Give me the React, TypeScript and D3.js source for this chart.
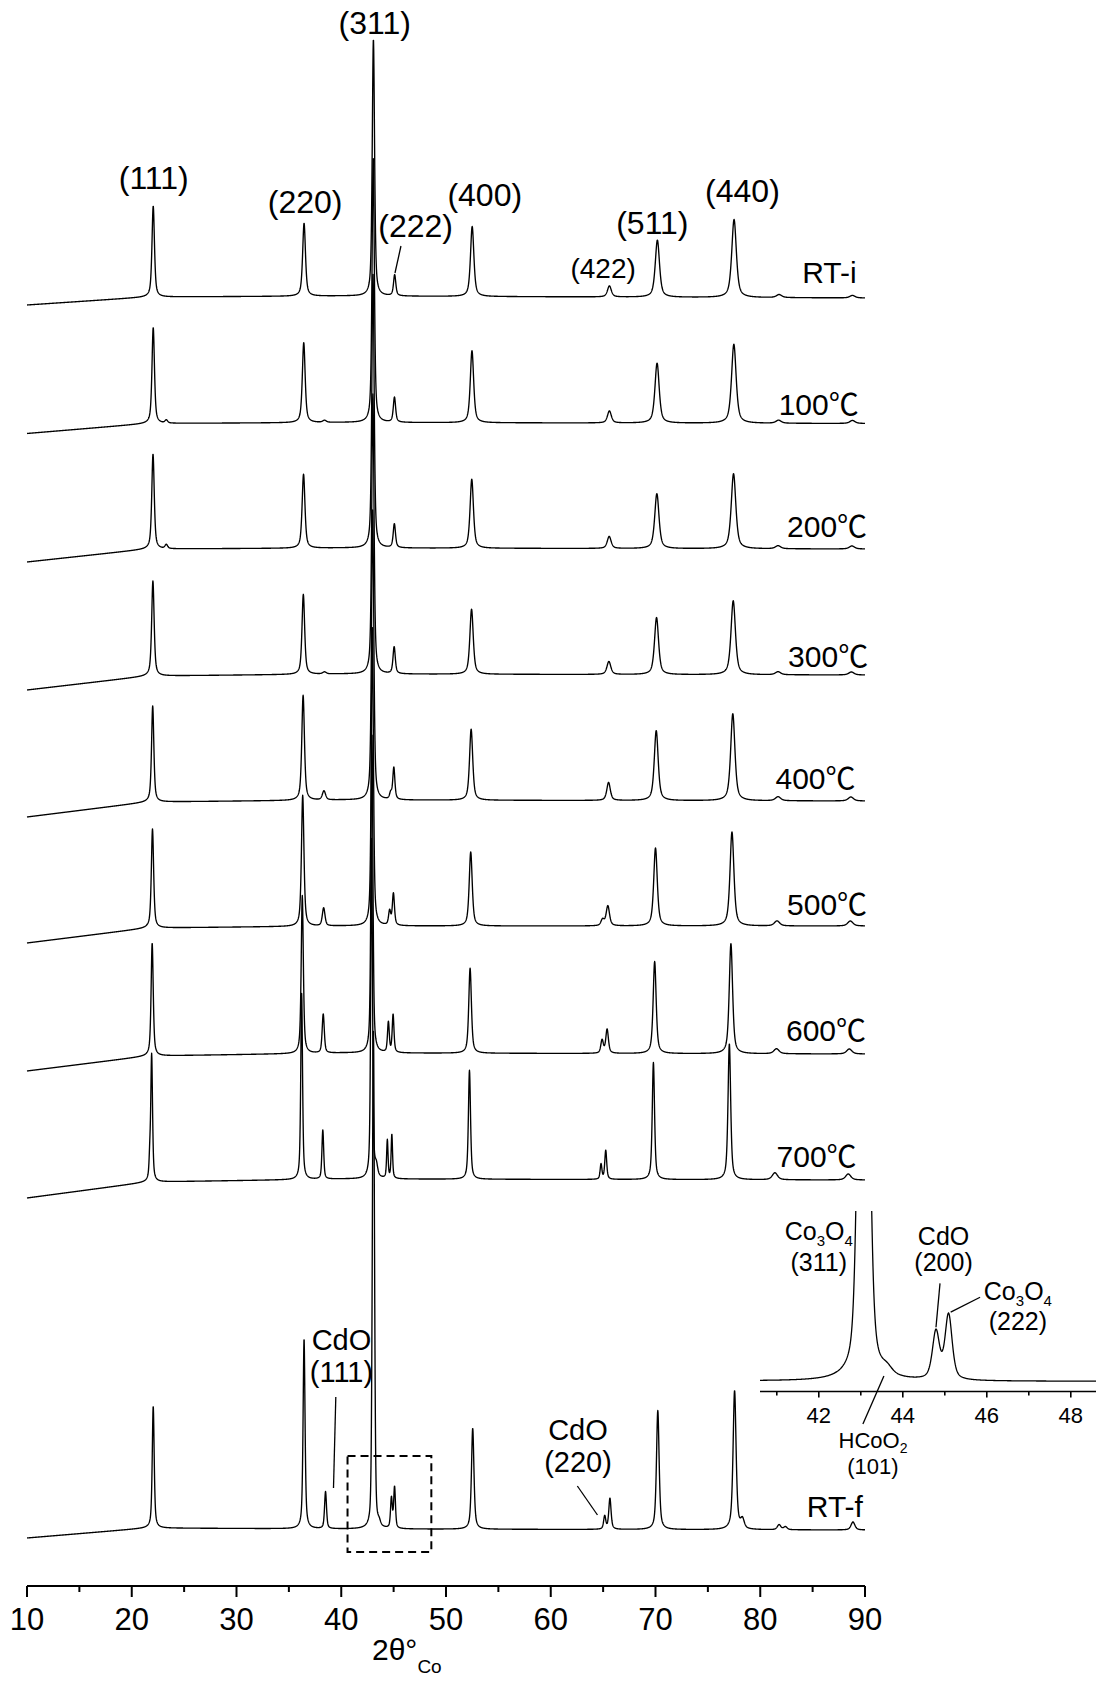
import React from "react"
import * as d3 from "d3"

// stacked in-situ XRD patterns, top to bottom
const samples = ["RT-i", "100℃", "200℃", "300℃", "400℃", "500℃", "600℃", "700℃", "RT-f"]
// vertical offset of each pattern (a.u.)
const offsets = [1233, 1106.5, 981, 855, 729, 603, 476, 350, 0]

// background: level (a.u.) at these 2θ anchors
const bgAt = [10, 21.5, 40, 90]
const bgLevels = [
  [-9, -1, 0, -2],
  [-11, -1, 0, -1],
  [-14, -1, 0, -1],
  [-16, -2, 0, -1],
  [-17, -2, 0, -1],
  [-17, -2, 0, 0],
  [-18, -3, 0, -1],
  [-19, -3, 0, -1],
  [-9, 1, 0, -1],
]

// peaks: [2θ, height a.u., HWHM (deg), lorentz fraction]
const peaksRTi = [
  [22.05, 91, 0.14, 0.6], [36.45, 73, 0.16, 0.6], [43.07, 257, 0.13, 0.55], [45.1, 21, 0.13, 0.6],
  [52.5, 70, 0.19, 0.6], [65.6, 11, 0.22, 0.6], [70.18, 57, 0.24, 0.6], [77.5, 78, 0.26, 0.6],
  [81.8, 3, 0.3, 0.6], [88.8, 2.5, 0.3, 0.6],
]
const peaks100 = [
  [22.05, 96, 0.14, 0.6], [23.3, 3, 0.15, 0.5], [36.42, 80, 0.16, 0.6], [38.4, 2, 0.2, 0.5],
  [43.05, 265, 0.13, 0.55], [45.08, 25, 0.13, 0.6], [52.48, 72, 0.19, 0.6], [65.6, 12, 0.22, 0.6],
  [70.15, 60, 0.24, 0.6], [77.48, 79, 0.26, 0.6], [81.75, 3, 0.3, 0.6], [88.8, 3, 0.3, 0.6],
]
const peaks200 = [
  [22.03, 95, 0.14, 0.6], [23.3, 4, 0.15, 0.5], [36.4, 74, 0.16, 0.6], [43.03, 275, 0.13, 0.55],
  [45.07, 24, 0.13, 0.6], [52.46, 69, 0.19, 0.6], [65.58, 12, 0.22, 0.6], [70.13, 55, 0.24, 0.6],
  [77.45, 75, 0.26, 0.6], [81.7, 3, 0.3, 0.6], [88.75, 3, 0.3, 0.6],
]
const peaks300 = [
  [22.02, 95, 0.14, 0.6], [36.38, 80, 0.15, 0.6], [38.4, 2, 0.2, 0.5], [43.02, 280, 0.13, 0.55],
  [45.05, 27, 0.13, 0.6], [52.44, 65, 0.19, 0.6], [65.55, 13, 0.22, 0.6], [70.1, 57, 0.23, 0.6],
  [77.42, 74, 0.25, 0.6], [81.7, 3, 0.3, 0.6], [88.7, 3, 0.3, 0.6],
]
const peaks400 = [
  [22.0, 96, 0.13, 0.6], [36.36, 105, 0.15, 0.6], [38.35, 9, 0.18, 0.5], [43.0, 290, 0.13, 0.55],
  [44.72, 6, 0.12, 0.5], [45.02, 32, 0.12, 0.6], [52.4, 71, 0.18, 0.6], [65.52, 18, 0.2, 0.6],
  [70.07, 70, 0.22, 0.6], [77.38, 87, 0.24, 0.6], [81.7, 4, 0.3, 0.6], [88.65, 4, 0.3, 0.6],
]
const peaks500 = [
  [21.98, 99, 0.13, 0.6], [36.32, 131, 0.14, 0.6], [38.32, 18, 0.15, 0.5], [42.97, 300, 0.12, 0.55],
  [44.62, 14, 0.12, 0.5], [44.98, 32, 0.12, 0.6], [52.36, 74, 0.17, 0.6], [64.95, 6, 0.18, 0.5],
  [65.45, 20, 0.19, 0.6], [70.0, 78, 0.2, 0.6], [77.3, 94, 0.22, 0.6], [81.6, 5, 0.3, 0.6],
  [88.6, 5, 0.3, 0.6],
]
const peaks600 = [
  [21.95, 113, 0.12, 0.6], [36.28, 158, 0.12, 0.6], [38.28, 39, 0.12, 0.5], [42.93, 320, 0.11, 0.55],
  [44.5, 30, 0.1, 0.5], [44.95, 38, 0.1, 0.6], [52.3, 85, 0.15, 0.6], [64.9, 13, 0.14, 0.5],
  [65.38, 24, 0.15, 0.6], [69.92, 92, 0.17, 0.6], [77.2, 110, 0.19, 0.6], [81.55, 5, 0.3, 0.6],
  [88.5, 5, 0.3, 0.6],
]
const peaks700 = [
  [21.72, 18, 0.08, 0.5], [21.9, 127, 0.1, 0.6], [36.22, 186, 0.1, 0.6], [38.24, 49, 0.1, 0.5],
  [42.9, 340, 0.1, 0.55], [43.35, 10, 0.15, 0.5], [44.4, 38, 0.08, 0.5], [44.83, 44, 0.08, 0.6],
  [52.24, 109, 0.12, 0.6], [64.8, 15, 0.1, 0.5], [65.25, 29, 0.11, 0.6], [69.8, 117, 0.13, 0.6],
  [77.05, 136, 0.15, 0.6], [81.4, 7, 0.3, 0.6], [88.4, 6, 0.3, 0.6],
]
const peaksRTf = [
  [22.05, 122, 0.11, 0.6], [36.45, 190, 0.11, 0.6], [38.5, 37, 0.11, 0.5], [43.07, 500, 0.12, 0.35],
  [43.62, 4, 0.15, 0.5], [44.79, 30, 0.1, 0.5], [45.09, 41, 0.1, 0.5], [52.55, 101, 0.14, 0.6],
  [65.15, 13, 0.12, 0.5], [65.65, 31, 0.13, 0.6], [70.22, 119, 0.15, 0.6], [77.55, 139, 0.17, 0.6],
  [78.3, 9, 0.2, 0.5], [81.8, 5, 0.2, 0.5], [82.4, 3, 0.2, 0.5], [88.85, 8, 0.22, 0.6],
]
const peakSets = [peaksRTi, peaks100, peaks200, peaks300, peaks400, peaks500, peaks600, peaks700, peaksRTf]

// Co3O4 reflections labelled over RT-i: [text, 2θ, a.u.]
const hklLabels: [string, number, number][] = [
  ["(111)", 22.1, 1340], ["(220)", 36.55, 1316], ["(311)", 43.2, 1495], ["(222)", 47.1, 1292],
  ["(400)", 53.7, 1323.5], ["(422)", 65.0, 1251], ["(511)", 69.7, 1295], ["(440)", 78.3, 1327],
]
// sample name placement: [right end 2θ, dy px]
const nameAt = [[89.2, -13], [89.4, -8], [90.2, -11], [90.3, -7], [89.1, -11], [90.2, -11], [90.1, -12], [89.2, -12], [89.8, -12]]

const xTicks = d3.range(10, 91, 10)
const xMinor = d3.range(15, 90, 10)
const insetRange = [40.6, 48.6]
const insetTicks = [42, 44, 46, 48]
const insetMinor = [41, 43, 45, 47]

const FONT = "'Liberation Sans', Arial, 'Noto Sans CJK SC', sans-serif"

const pv = (x: number, p: number[]) => {
  const t = ((x - p[0]) / p[2]) ** 2
  return p[1] * (p[3] / (1 + t) + (1 - p[3]) * Math.exp(-Math.LN2 * t))
}
const profile = (peaks: number[][], x: number) => d3.sum(peaks, (p) => pv(x, p))

const Celsius = ({ text }: { text: string }) => {
  const i = text.indexOf("℃")
  if (i < 0) return <>{text}</>
  return (
    <>
      {text.slice(0, i)}
      <tspan fontFamily="'Noto Sans CJK SC', 'DejaVu Sans', sans-serif">℃</tspan>
    </>
  )
}

const App = () => {
  const width = 1097
  const height = 1681
  const axisY = 1586

  const x = d3.scaleLinear().domain([10, 90]).range([27, 865])
  const y = d3.scaleLinear().domain([0, 1490]).range([1529, 39])

  const grid = d3.range(10, 90.0001, 0.02)
  const line = d3
    .line<[number, number]>()
    .x((d) => x(d[0]))
    .y((d) => y(d[1]))

  const paths = samples.map((name, i) => {
    const bg = d3.scaleLinear().domain(bgAt).range(bgLevels[i])
    const pts = grid.map((t) => [t, offsets[i] + bg(t) + profile(peakSets[i], t)] as [number, number])
    return line(pts)
  })

  // inset: zoom of RT-f around (311)/(222)
  const ix = d3.scaleLinear().domain(insetRange).range([760, 1096])
  const iy = d3.scaleLinear().domain([-6.5, 107.5]).range([1391.5, 1211])
  const bgF = d3.scaleLinear().domain(bgAt).range(bgLevels[8])
  const insetGrid = d3.range(insetRange[0], insetRange[1] + 0.0001, 0.01)
  const insetPath = d3
    .line<[number, number]>()
    .x((d) => ix(d[0]))
    .y((d) => iy(d[1]))(insetGrid.map((t) => [t, bgF(t) + profile(peaksRTf, t)] as [number, number]))

  const fy = (u: number) => y(u) // RT-f sits at offset 0

  const sub = (s: string) => (
    <tspan fontSize={15} dy={6}>
      {s}
    </tspan>
  )

  return (
    <svg
      width={width}
      height={height}
      style={{ position: "absolute", left: 0, top: 0, background: "#fff", display: "block" }}
      fontFamily={FONT}
    >
      <defs>
        <clipPath id="insetClip">
          <rect x={ix(insetRange[0])} y={1211} width={ix(insetRange[1]) - ix(insetRange[0])} height={181} />
        </clipPath>
      </defs>

      {/* patterns */}
      <g fill="none" stroke="#000" strokeWidth={1.35} strokeLinejoin="round">
        {paths.map((d, i) => (
          <path key={samples[i]} d={d || ""} />
        ))}
      </g>

      {/* sample names */}
      <g fontSize={30} textAnchor="end">
        {samples.map((s, i) => (
          <text key={s} x={x(nameAt[i][0])} y={y(offsets[i]) + nameAt[i][1]}>
            <Celsius text={s} />
          </text>
        ))}
      </g>

      {/* hkl labels */}
      <g fontSize={32} textAnchor="middle">
        {hklLabels.map(([t, a, u]) => (
          <text key={t} x={x(a)} y={y(u)} fontSize={t === "(422)" ? 28 : 32}>
            {t}
          </text>
        ))}
      </g>
      <line x1={x(45.7)} y1={y(1283)} x2={x(45.13)} y2={y(1256)} stroke="#000" strokeWidth={1.3} />

      {/* CdO labels on RT-f */}
      <g fontSize={29} textAnchor="middle">
        <text x={x(40.02)} y={fy(179)}>CdO</text>
        <text x={x(40.02)} y={fy(147)}>(111)</text>
        <text x={x(62.6)} y={fy(89)}>CdO</text>
        <text x={x(62.6)} y={fy(57)}>(220)</text>
      </g>
      <g stroke="#000" strokeWidth={1.3}>
        <line x1={x(39.48)} y1={fy(132)} x2={x(39.26)} y2={fy(41)} />
        <line x1={x(62.54)} y1={fy(43)} x2={x(64.46)} y2={fy(14)} />
      </g>

      {/* dashed box marking the inset range */}
      <rect
        x={x(insetRange[0])}
        y={fy(73)}
        width={x(insetRange[1]) - x(insetRange[0])}
        height={fy(-23) - fy(73)}
        fill="none"
        stroke="#000"
        strokeWidth={2}
        strokeDasharray="8,5"
      />

      {/* main x axis */}
      <g stroke="#000" strokeWidth={2}>
        <line x1={x(10)} x2={x(90)} y1={axisY} y2={axisY} />
        {xTicks.map((t) => (
          <line key={t} x1={x(t)} x2={x(t)} y1={axisY} y2={axisY + 11} />
        ))}
        {xMinor.map((t) => (
          <line key={t} x1={x(t)} x2={x(t)} y1={axisY} y2={axisY + 6} />
        ))}
      </g>
      <g fontSize={31} textAnchor="middle">
        {xTicks.map((t) => (
          <text key={t} x={x(t)} y={axisY + 44}>
            {t}
          </text>
        ))}
      </g>
      <text x={372} y={1660} fontSize={30}>
        2θ°
        <tspan fontSize={19} dx={0} dy={13}>
          Co
        </tspan>
      </text>

      {/* inset */}
      <path d={insetPath || ""} fill="none" stroke="#000" strokeWidth={1.3} clipPath="url(#insetClip)" />
      <g stroke="#000" strokeWidth={1.6}>
        <line x1={ix(insetRange[0])} x2={ix(insetRange[1])} y1={iy(-6.5)} y2={iy(-6.5)} />
        {insetTicks.map((t) => (
          <line key={t} x1={ix(t)} x2={ix(t)} y1={iy(-6.5)} y2={iy(-6.5) + 6} />
        ))}
        {insetMinor.map((t) => (
          <line key={t} x1={ix(t)} x2={ix(t)} y1={iy(-6.5)} y2={iy(-6.5) + 4} />
        ))}
      </g>
      <g fontSize={22} textAnchor="middle">
        {insetTicks.map((t) => (
          <text key={t} x={ix(t)} y={iy(-6.5) + 31}>
            {t}
          </text>
        ))}
      </g>
      <g fontSize={25} textAnchor="middle">
        <text x={ix(42.0)} y={iy(88.9)}>
          Co{sub("3")}
          <tspan dy={-6}>O</tspan>
          {sub("4")}
        </text>
        <text x={ix(42.0)} y={iy(69.4)}>(311)</text>
        <text x={ix(44.97)} y={iy(85.8)}>CdO</text>
        <text x={ix(44.97)} y={iy(69.4)}>(200)</text>
        <text x={ix(46.74)} y={iy(51.1)}>
          Co{sub("3")}
          <tspan dy={-6}>O</tspan>
          {sub("4")}
        </text>
        <text x={ix(46.74)} y={iy(32.2)}>(222)</text>
      </g>
      <g fontSize={22} textAnchor="middle">
        <text x={ix(43.29)} y={iy(-42.1)}>
          HCoO
          <tspan fontSize={14} dy={5}>
            2
          </tspan>
        </text>
        <text x={ix(43.29)} y={iy(-58.5)}>(101)</text>
      </g>
      <g stroke="#000" strokeWidth={1.3}>
        <line x1={ix(44.886)} y1={iy(61.8)} x2={ix(44.79)} y2={iy(34.1)} />
        <line x1={ix(45.84)} y1={iy(53)} x2={ix(45.14)} y2={iy(43.6)} />
        <line x1={ix(43.55)} y1={iy(3.3)} x2={ix(43.05)} y2={iy(-27)} />
      </g>
    </svg>
  )
}

export default App
